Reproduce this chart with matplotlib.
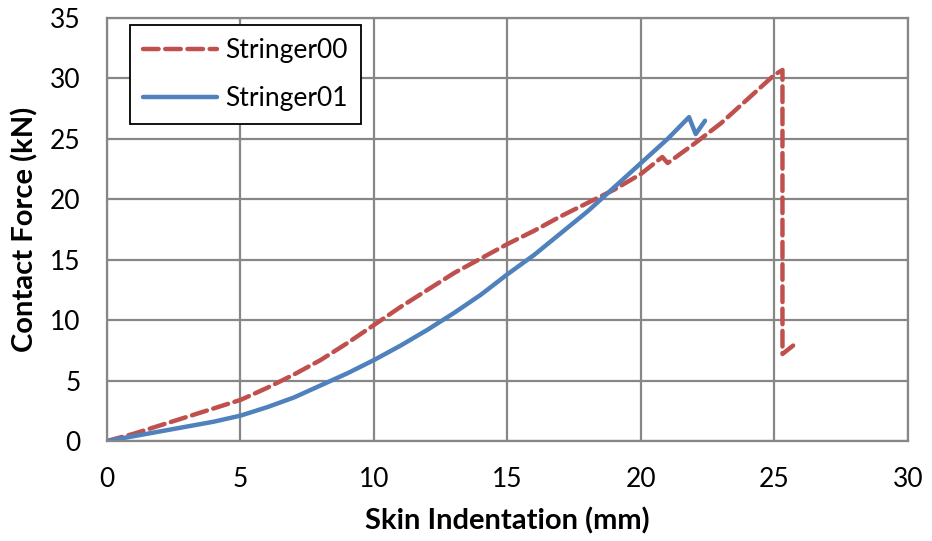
import numpy as np
import matplotlib.pyplot as plt

plt.rcParams['font.family'] = ['Lato', 'DejaVu Sans']

# Stringer00 (dashed red)
x00 = [0, 1, 2, 3, 4, 5, 6, 7, 8, 9, 10, 11, 12, 13, 14, 15, 16, 17, 18, 19,
       20, 20.8, 21.0, 21.5, 22, 23, 24, 25, 25.3, 25.3, 25.7]
y00 = [0, 0.6, 1.3, 2.0, 2.7, 3.4, 4.4, 5.5, 6.7, 8.1, 9.6, 11.1, 12.5, 13.9,
       15.1, 16.3, 17.4, 18.6, 19.7, 20.8, 22.1, 23.5, 23.0, 23.8, 24.6, 26.3,
       28.3, 30.3, 30.7, 7.2, 7.9]

# Stringer01 (solid blue)
x01 = [0, 1, 2, 3, 4, 5, 6, 7, 8, 9, 10, 11, 12, 13, 14, 15, 16, 17, 18, 19,
       20, 21, 21.8, 22.05, 22.4]
y01 = [0, 0.4, 0.8, 1.2, 1.6, 2.1, 2.8, 3.6, 4.6, 5.6, 6.7, 7.9, 9.2, 10.6,
       12.1, 13.8, 15.4, 17.2, 19.0, 21.0, 23.0, 25.0, 26.8, 25.4, 26.5]

red = '#C0504D'
blue = '#4F81BD'

fig = plt.figure(figsize=(9.32, 5.41), dpi=100)
ax = fig.add_axes([0.1148, 0.1848, 0.8594, 0.7819])

ax.plot(x00, y00, color=red, lw=3.2, dashes=(3.5, 1.5), label='Stringer00',
        solid_capstyle='round', dash_capstyle='round')
ax.plot(x01, y01, color=blue, lw=3.2, label='Stringer01',
        solid_capstyle='round')

ax.set_xlim(0, 30)
ax.set_ylim(0, 35)
ax.set_xticks(np.arange(0, 31, 5))
ax.set_yticks(np.arange(0, 36, 5))
ax.grid(True, color='#878787', lw=1.6)
ax.set_axisbelow(True)
for s in ax.spines.values():
    s.set_color('#878787')
    s.set_linewidth(1.6)
ax.tick_params(length=0, labelsize=19)
ax.tick_params(axis='x', pad=19)
ax.tick_params(axis='y', pad=19)

ax.set_xlabel('Skin Indentation (mm)', fontsize=21, fontweight='bold', labelpad=11)
ax.set_ylabel('Contact Force (kN)', fontsize=21, fontweight='bold', labelpad=8)

leg = ax.legend(loc='upper left', bbox_to_anchor=(0.0287, 0.983), borderaxespad=0,
                fontsize=19, frameon=True, fancybox=False, handlelength=2.8,
                borderpad=0.5, labelspacing=0.85, handletextpad=0.3)
leg.get_frame().set_edgecolor('black')
leg.get_frame().set_linewidth(1.3)
leg.get_frame().set_alpha(1)

fig.savefig('out.png', dpi=100)
